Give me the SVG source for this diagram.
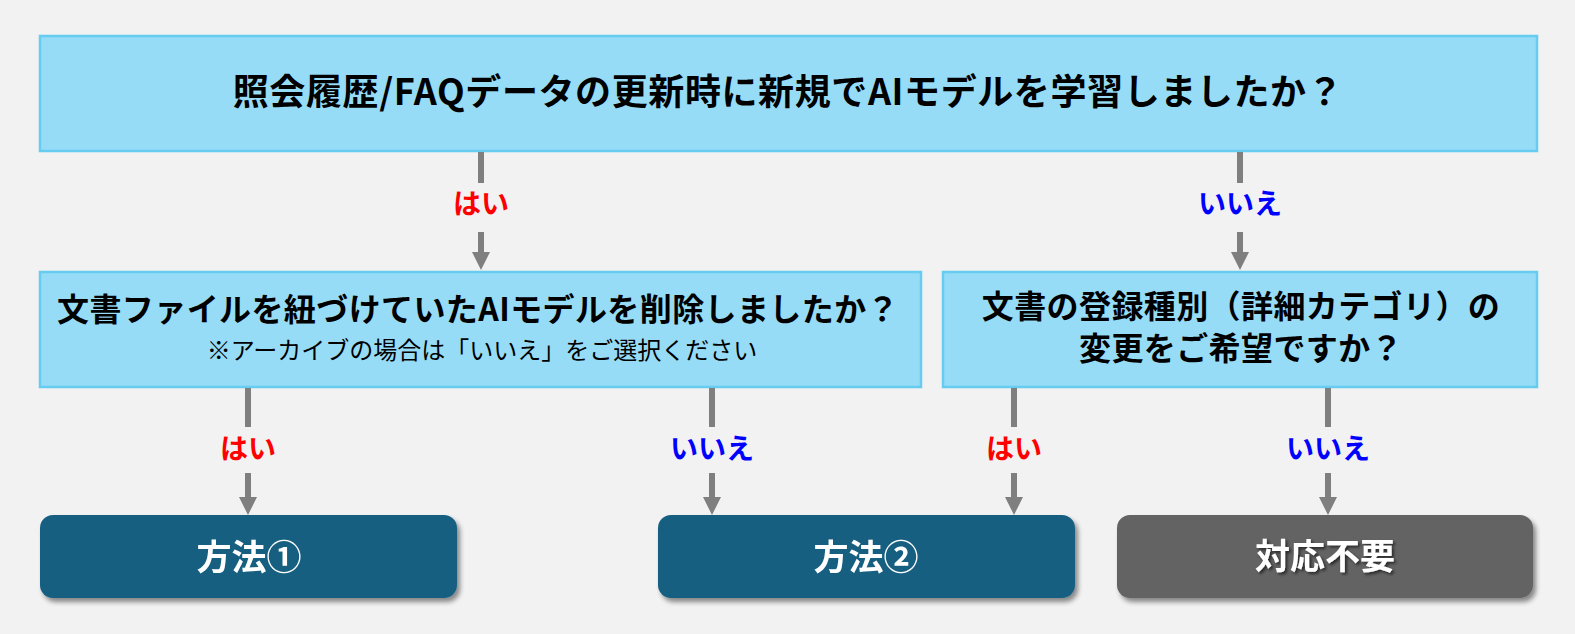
<svg xmlns="http://www.w3.org/2000/svg" width="1575" height="634" viewBox="0 0 1575 634">
<defs>
<style>
.q{fill:#97DCF7;stroke:#66CCF0;stroke-width:2.5}
.t{font-family:"Noto Sans CJK JP","Noto Sans",sans-serif;text-anchor:middle;dominant-baseline:central}
.b{font-weight:bold;fill:#000}
.sub{font-weight:normal;fill:#000;font-size:24px}
.yes{fill:#FF0000;font-weight:bold;font-size:28px}
.no{fill:#0000FF;font-weight:bold;font-size:28px}
.ln{stroke:#7F7F7F;stroke-width:6;fill:none}
.ar{stroke:#7F7F7F;stroke-width:6;fill:none;marker-end:url(#ah)}
.res{fill:#175F80}
.none{fill:#636363}
.w{fill:#fff;font-weight:bold;font-size:35px}
</style>
<marker id="ah" markerUnits="userSpaceOnUse" markerWidth="18" markerHeight="18" viewBox="0 0 18 18" refX="2" refY="9" orient="auto">
<path d="M0,0 L18,9 L0,18 z" fill="#7F7F7F"/>
</marker>
<filter id="sh" x="-5%" y="-10%" width="115%" height="130%">
<feGaussianBlur in="SourceAlpha" stdDeviation="2.5"/>
<feOffset dx="3" dy="4" result="o"/>
<feComponentTransfer><feFuncA type="linear" slope="0.45"/></feComponentTransfer>
<feMerge><feMergeNode/><feMergeNode in="SourceGraphic"/></feMerge>
</filter>
<filter id="tsh" x="-10%" y="-20%" width="130%" height="150%">
<feGaussianBlur in="SourceAlpha" stdDeviation="1.5"/>
<feOffset dx="2" dy="2"/>
<feComponentTransfer><feFuncA type="linear" slope="0.6"/></feComponentTransfer>
<feMerge><feMergeNode/><feMergeNode in="SourceGraphic"/></feMerge>
</filter>
</defs>
<rect width="1575" height="634" fill="#F2F2F2"/>

<g id="q1">
<rect class="q" x="40" y="36" width="1497" height="115"/>
<text class="t b" x="788" y="89" font-size="36" letter-spacing="0.6">照会履歴/FAQデータの更新時に新規でAIモデルを学習しましたか？</text>
</g>

<g id="q2">
<rect class="q" x="40" y="272" width="881" height="115"/>
<text class="t b" x="478" y="307" font-size="32" letter-spacing="0.4">文書ファイルを紐づけていたAIモデルを削除しましたか？</text>
<text class="t sub" x="482" y="348">※アーカイブの場合は「いいえ」をご選択ください</text>
</g>

<g id="q3">
<rect class="q" x="943" y="272" width="594" height="115"/>
<text class="t b" x="1241" y="304" font-size="32" letter-spacing="0.4">文書の登録種別（詳細カテゴリ）の</text>
<text class="t b" x="1241" y="346" font-size="32" letter-spacing="0.4">変更をご希望ですか？</text>
</g>

<g id="r1" filter="url(#sh)">
<rect class="res" x="40" y="515" width="417" height="83" rx="13"/>
<text class="t w" x="249" y="554">方法①</text>
</g>

<g id="r2" filter="url(#sh)">
<rect class="res" x="658" y="515" width="417" height="83" rx="13"/>
<text class="t w" x="866" y="554">方法②</text>
</g>

<g id="r3">
<rect class="none" x="1117" y="515" width="416" height="83" rx="13" filter="url(#sh)"/>
<text class="t w" x="1325" y="553" filter="url(#tsh)">対応不要</text>
</g>

<g id="connectors">
<line class="ln" x1="481" y1="152" x2="481" y2="183"/>
<text class="t yes" x="481" y="202">はい</text>
<line class="ar" x1="481" y1="232" x2="481" y2="254"/>

<line class="ln" x1="1240" y1="152" x2="1240" y2="183"/>
<text class="t no" x="1240" y="202">いいえ</text>
<line class="ar" x1="1240" y1="232" x2="1240" y2="254"/>

<line class="ln" x1="248" y1="388" x2="248" y2="427"/>
<text class="t yes" x="248" y="447">はい</text>
<line class="ar" x1="248" y1="473" x2="248" y2="499"/>

<line class="ln" x1="712" y1="388" x2="712" y2="427"/>
<text class="t no" x="712" y="447">いいえ</text>
<line class="ar" x1="712" y1="473" x2="712" y2="499"/>

<line class="ln" x1="1014" y1="388" x2="1014" y2="427"/>
<text class="t yes" x="1014" y="447">はい</text>
<line class="ar" x1="1014" y1="473" x2="1014" y2="499"/>

<line class="ln" x1="1328" y1="388" x2="1328" y2="427"/>
<text class="t no" x="1328" y="447">いいえ</text>
<line class="ar" x1="1328" y1="473" x2="1328" y2="499"/>
</g>
</svg>
